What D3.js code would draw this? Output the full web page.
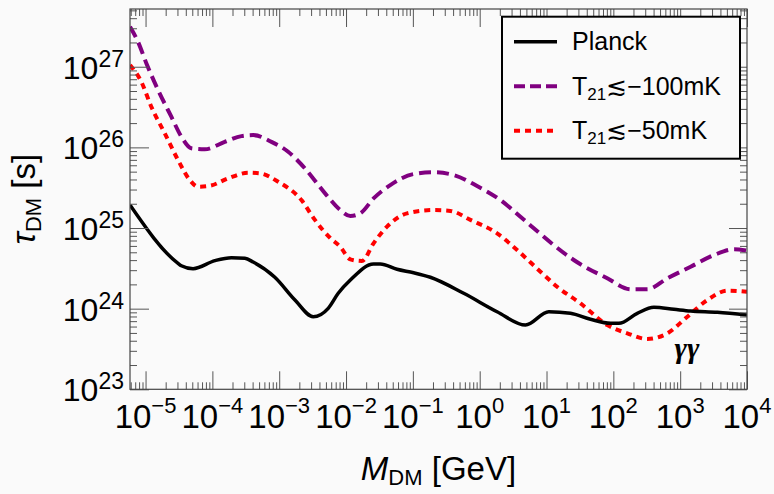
<!DOCTYPE html>
<html>
<head>
<meta charset="utf-8">
<script src="https://cdn.jsdelivr.net/npm/d3@7"></script>
<style>
html, body { margin: 0; padding: 0; background: #fafafa; }
svg { display: block; font-family: "Liberation Sans", Arial, Helvetica, sans-serif; }
</style>
</head>
<body>
<div id="chart"></div>
<script>
// values: mass in GeV, lifetime in s
var planckMass = [5.85e-6, 3.06e-5, 3.43e-5, 5.14e-5, 1.09e-4, 1.93e-4, 3.06e-4, 4.07e-4, 8.6e-4, 1.72e-3, 3.23e-3, 5.41e-3, 7.64e-3, 1.16e-2, 2.58e-2, 3.25e-2, 5.79e-2, 0.1026, 0.1825, 0.576, 1.82, 4.84, 10.8, 22.8, 45.5, 90.8, 121, 228, 404, 806, 1435, 3600, 1e4];
var planckTau = [1.93e25, 3.65e24, 3.41e24, 3.13e24, 3.94e24, 4.29e24, 4.21e24, 3.79e24, 2.45e24, 1.28e24, 7.94e23, 1.01e24, 1.55e24, 2.26e24, 3.58e24, 3.58e24, 3.08e24, 2.79e24, 2.45e24, 1.55e24, 9.16e23, 6.27e23, 9.16e23, 8.75e23, 7.38e23, 6.58e23, 6.58e23, 8.75e23, 1.04e24, 9.82e23, 9.35e23, 9.02e23, 8.34e23];

var t100Mass = [5.85e-6, 7.71e-6, 1.03e-5, 1.54e-5, 2.43e-5, 3.43e-5, 4.84e-5, 7.69e-5, 1.53e-4, 2.72e-4, 4.07e-4, 7.66e-4, 1.36e-3, 2.42e-3, 5.10e-3, 8.19e-3, 1.16e-2, 1.63e-2, 2.58e-2, 4.59e-2, 0.1026, 0.205, 0.408, 0.914, 2.04, 4.07, 8.12, 12.8, 25.6, 81.0, 181, 322, 642, 1435, 3205, 6385, 1e4];
var t100Tau = [3.13e27, 2.04e27, 1.10e27, 5.14e26, 2.40e26, 1.36e26, 9.73e25, 9.46e25, 1.17e26, 1.38e26, 1.42e26, 1.17e26, 8.83e25, 5.50e25, 2.56e25, 1.67e25, 1.41e25, 1.52e25, 2.33e25, 3.41e25, 4.67e25, 4.91e25, 4.54e25, 3.32e25, 2.22e25, 1.38e25, 8.43e24, 6.15e24, 4.01e24, 2.38e24, 1.74e24, 1.74e24, 2.38e24, 3.31e24, 4.62e24, 5.45e24, 5.24e24];

var t50Mass = [5.85e-6, 8.63e-6, 1.22e-5, 1.94e-5, 3.06e-5, 4.58e-5, 6.11e-5, 9.14e-5, 1.72e-4, 3.43e-4, 5.13e-4, 9.64e-4, 2.15e-3, 3.42e-3, 5.8e-3, 8.19e-3, 1.16e-2, 1.73e-2, 2.58e-2, 4.10e-2, 8.17e-2, 0.205, 0.364, 0.726, 1.82, 3.63, 8.12, 14.4, 32.3, 81.0, 162, 322, 642, 1280, 2552, 5085, 1e4];
var t50Tau = [1.05e27, 6.52e26, 3.19e26, 1.49e26, 6.97e25, 3.94e25, 3.25e25, 3.34e25, 4.13e25, 4.85e25, 4.77e25, 3.75e25, 2.22e25, 1.26e25, 7.52e24, 5.86e24, 4.09e24, 3.90e24, 6.46e24, 1.04e25, 1.52e25, 1.67e25, 1.63e25, 1.26e25, 8.59e24, 5.33e24, 2.87e24, 1.87e24, 1.16e24, 6.27e23, 4.94e23, 4.21e23, 4.94e23, 7.94e23, 1.28e24, 1.67e24, 1.62e24];

var xTickExp = [-5, -4, -3, -2, -1, 0, 1, 2, 3, 4];
var yTickExp = [23, 24, 25, 26, 27];
var legendNames = ["Planck", "T21-100", "T21-50"];

var W = 774, H = 494;
var margin = { top: 9, left: 130, right: 27, bottom: 104.7 };
var width = W - margin.left - margin.right;
var height = H - margin.top - margin.bottom;

var svg = d3.select("#chart").append("svg")
    .attr("width", W)
    .attr("height", H);

svg.append("rect").attr("width", W).attr("height", H).attr("fill", "#fafafa");

var g = svg.append("g")
    .attr("transform", "translate(" + margin.left + "," + margin.top + ")");

//scales
var x = d3.scaleLog().domain([5.85e-6, 1e4]).range([0, width]);
var y = d3.scaleLog().domain([1e23, 5.2e27]).range([height, 0]);

//minor and major tick values
function decadeTicks(scale) {
    var dom = scale.domain();
    var lo = Math.floor(Math.log10(dom[0])), hi = Math.ceil(Math.log10(dom[1]));
    var major = [], minor = [];
    for (var e = lo; e <= hi; e++) {
        for (var k = 1; k <= 9; k++) {
            var v = k * Math.pow(10, e);
            if (v < dom[0] * 0.999 || v > dom[1] * 1.001) continue;
            if (k === 1) major.push(v); else minor.push(v);
        }
    }
    return { major: major, minor: minor };
}

g.append("clipPath").attr("id", "clip")
    .append("rect").attr("width", width).attr("height", height);

//plot lines
var line = d3.line()
    .x(d => x(d[0]))
    .y(d => y(d[1]))
    .curve(d3.curveMonotoneX);

var lines = g.append("g").attr("clip-path", "url(#clip)");

lines.append("path")
    .datum(d3.zip(t100Mass, t100Tau))
    .attr("fill", "none")
    .attr("stroke", "#800080")
    .attr("stroke-width", 4)
    .attr("stroke-dasharray", "12,6")
    .attr("d", line);

lines.append("path")
    .datum(d3.zip(t50Mass, t50Tau))
    .attr("fill", "none")
    .attr("stroke", "#ff0000")
    .attr("stroke-width", 4)
    .attr("stroke-dasharray", "6,5")
    .attr("d", line);

lines.append("path")
    .datum(d3.zip(planckMass, planckTau))
    .attr("fill", "none")
    .attr("stroke", "#000")
    .attr("stroke-width", 3.5)
    .attr("stroke-linejoin", "round")
    .attr("d", line);

//legend
var legend = svg.append("g");
legend.append("rect")
    .attr("x", 502).attr("y", 16.7)
    .attr("width", 238).attr("height", 142)
    .attr("fill", "#fafafa")
    .attr("stroke", "#000")
    .attr("stroke-width", 2);

var legStyle = [
    { color: "#000", dash: null, w: 3.5 },
    { color: "#800080", dash: "11,5", w: 4 },
    { color: "#ff0000", dash: "6,5", w: 4 }
];
legendNames.forEach(function (name, i) {
    var ly = 41.7 + i * 44.5;
    legend.append("line")
        .attr("x1", 514).attr("x2", 557)
        .attr("y1", ly).attr("y2", ly)
        .attr("stroke", legStyle[i].color)
        .attr("stroke-width", legStyle[i].w)
        .attr("stroke-dasharray", legStyle[i].dash);
    var t = legend.append("text")
        .attr("x", 572).attr("y", ly + 8.5)
        .attr("font-size", 25)
        .attr("fill", "#000");
    if (i === 0) {
        t.text("Planck");
    } else {
        t.append("tspan").text("T");
        t.append("tspan").attr("font-size", 17).attr("dy", 5).text("21");
        t.append("tspan").attr("dy", -5).text("\u2272\u2212" + (i === 1 ? "100" : "50") + "mK");
    }
});

//plot axis
var xt = decadeTicks(x), yt = decadeTicks(y);

function drawTicks(axisGen, scale, values, size, transform) {
    var a = g.append("g")
        .attr("transform", transform)
        .call(axisGen(scale).tickValues(values).tickSize(-size).tickFormat(""));
    a.select(".domain").remove();
    a.selectAll("line").attr("stroke", "#555").attr("stroke-width", 1);
    return a;
}

drawTicks(d3.axisBottom, x, xt.major, 18, "translate(0," + height + ")");
drawTicks(d3.axisBottom, x, xt.minor, 7, "translate(0," + height + ")");
drawTicks(d3.axisTop, x, xt.major, 18, "translate(0,0)");
drawTicks(d3.axisTop, x, xt.minor, 7, "translate(0,0)");
drawTicks(d3.axisLeft, y, yt.major, 19, "translate(0,0)");
drawTicks(d3.axisLeft, y, yt.minor, 7, "translate(0,0)");
drawTicks(d3.axisRight, y, yt.major, 18, "translate(" + width + ",0)");
drawTicks(d3.axisRight, y, yt.minor, 7, "translate(" + width + ",0)");

g.append("rect")
    .attr("width", width).attr("height", height)
    .attr("fill", "none")
    .attr("stroke", "#444")
    .attr("stroke-width", 1.2);

//tick labels
xTickExp.forEach(function (e) {
    var t = g.append("text")
        .attr("x", x(Math.pow(10, e)))
        .attr("y", height + 39)
        .attr("text-anchor", "middle")
        .attr("font-size", 33);
    t.append("tspan").text("10");
    t.append("tspan").attr("font-size", 22).attr("dy", -15)
        .text(e < 0 ? "\u2212" + (-e) : String(e));
});

yTickExp.forEach(function (e) {
    var t = g.append("text")
        .attr("x", -6)
        .attr("y", y(Math.pow(10, e)) + 12)
        .attr("text-anchor", "end")
        .attr("font-size", 32);
    t.append("tspan").text("10");
    t.append("tspan").attr("font-size", 23).attr("dy", -12).text(String(e));
});

//axis titles
var xl = svg.append("text")
    .attr("x", margin.left + width / 2)
    .attr("y", 480)
    .attr("text-anchor", "middle")
    .attr("font-size", 33);
xl.append("tspan").attr("font-style", "italic").text("M");
xl.append("tspan").attr("font-size", 22).attr("dy", 5).text("DM");
xl.append("tspan").attr("dy", -5).text(" [GeV]");

var yl = svg.append("text")
    .attr("transform", "translate(35," + (margin.top + height / 2) + ") rotate(-90)")
    .attr("text-anchor", "middle")
    .attr("font-size", 33);
yl.append("tspan").attr("font-style", "italic").text("\u03c4");
yl.append("tspan").attr("font-size", 22).attr("dy", 6).text("DM");
yl.append("tspan").attr("dy", -6).text(" [s]");

//process label
svg.append("text")
    .attr("x", 687).attr("y", 358)
    .attr("text-anchor", "middle")
    .attr("font-family", "'Liberation Serif', 'DejaVu Serif', serif")
    .attr("font-style", "italic")
    .attr("font-weight", "bold")
    .attr("font-size", 30)
    .text("\u03b3\u03b3");
</script>
</body>
</html>
